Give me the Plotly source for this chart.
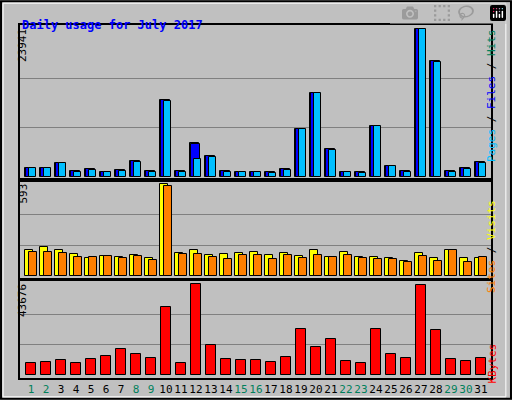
import plotly.graph_objects as go

days = list(range(1, 32))
weekend = [1, 2, 8, 9, 15, 16, 22, 23, 29, 30]
hits = [1460, 1460, 2270, 970, 1300, 810, 1130, 2590, 970, 12470, 970, 5510, 3400, 970, 810, 810,
        810, 1300, 7780, 13610, 4540, 810, 810, 8260, 1780, 970, 23941, 18790, 970, 1460, 2430]
files = [1460, 1460, 2270, 970, 1300, 810, 1130, 2590, 970, 12470, 970, 5350, 3400, 970, 810, 810,
         810, 1300, 7780, 13610, 4540, 810, 810, 8260, 1780, 970, 23941, 18790, 970, 1460, 2430]
pages = [1460, 1460, 2270, 810, 1130, 810, 970, 2430, 810, 12310, 810, 2920, 3240, 810, 810, 810,
         650, 1130, 7780, 13610, 4370, 810, 650, 8260, 1780, 810, 23941, 18630, 810, 1300, 2270]
sites = [165, 188, 165, 143, 118, 131, 124, 137, 118, 593, 150, 165, 137, 143, 150, 156,
         137, 150, 131, 165, 124, 156, 124, 124, 118, 98, 150, 118, 169, 118, 118]
visits = [156, 156, 150, 124, 124, 131, 118, 131, 105, 582, 143, 143, 124, 111, 137, 137,
          111, 137, 118, 137, 124, 137, 118, 111, 111, 92, 131, 98, 169, 92, 124]
kbytes = [5900, 6380, 7330, 5900, 7810, 9250, 12590, 10200, 8290, 32680, 5900, 43676, 14500, 7810, 7330, 7330,
          6380, 8770, 22160, 13550, 17380, 6850, 5900, 22160, 10200, 8290, 43200, 21680, 7810, 6850, 8290]

BG = "#c0c0c0"
line = dict(color="black", width=1)
fig = go.Figure()

def bar(y, color, offset, width, yaxis, xaxis):
    fig.add_trace(go.Bar(x=days, y=y, marker=dict(color=color, line=line), offset=offset,
                         width=width, xaxis=xaxis, yaxis=yaxis, showlegend=False, hoverinfo="y"))

bar(hits, "#00805c", -0.4, 0.6, "y", "x")
bar(files, "#0000ff", -0.3, 0.6, "y", "x")
bar(pages, "#00bfff", -0.13, 0.45, "y", "x")
bar(sites, "#ffff00", -0.4, 0.55, "y2", "x2")
bar(visits, "#ff8000", -0.13, 0.5, "y2", "x2")
bar(kbytes, "#ff0000", -0.33, 0.68, "y3", "x3")

xdom = [20 / 512, 491 / 512]
ax = dict(range=[0.27, 31.67], domain=xdom, showgrid=False, zeroline=False, showline=True,
          linecolor="black", mirror=True, linewidth=2, fixedrange=True)
tick_text = [f"<span style='color:{'#00805c' if d in weekend else 'black'}'>{d}</span>" for d in days]
fig.update_layout(
    xaxis=dict(ax, anchor="y", showticklabels=False, ticks=""),
    xaxis2=dict(ax, anchor="y2", showticklabels=False, ticks=""),
    xaxis3=dict(ax, anchor="y3", tickvals=days, ticktext=tick_text, ticks="", tickangle=0,
                automargin=False, tickfont=dict(family="DejaVu Sans Mono", size=11, color="black")),
)

def yax(top, lo, hi, dom):
    return dict(range=[lo, hi], domain=dom, tickvals=[top / 3, 2 * top / 3], showticklabels=False,
                gridcolor="#808080", gridwidth=1, zeroline=False, showline=True, linecolor="black",
                mirror=True, linewidth=2, fixedrange=True)

fig.update_layout(
    yaxis=yax(23941, -486, 24589, [1 - 180 / 400, 1 - 25 / 400]),
    yaxis2=yax(593, -19, 618.5, [1 - 279 / 400, 1 - 180 / 400]),
    yaxis3=yax(43676, -1580, 45730, [1 - 378 / 400, 1 - 280 / 400]),
    width=512, height=400, margin=dict(l=0, r=0, t=0, b=0),
    paper_bgcolor=BG, plot_bgcolor=BG, bargap=0,
    font=dict(family="DejaVu Sans Mono", size=11, color="black"),
)

mono = "DejaVu Sans Mono"
ann = [
    dict(x=20 / 512, y=1 - 16 / 400, text="<b>Daily usage for July 2017</b>", xanchor="left",
         font=dict(color="#0000ff", size=12, family=mono)),
    dict(x=14 / 512, y=1 - 27 / 400, text="23941", textangle=-90, yanchor="top", font=dict(size=11)),
    dict(x=14 / 512, y=1 - 182 / 400, text="593", textangle=-90, yanchor="top", font=dict(size=11)),
    dict(x=14 / 512, y=1 - 282 / 400, text="43676", textangle=-90, yanchor="top", font=dict(size=11)),
    dict(x=500 / 512, y=1 - 27 / 400, yanchor="top", textangle=-90,
         text="<span style='color:#00bfff'>Pages</span> / <span style='color:#0000ff'>Files</span>"
              " / <span style='color:#00805c'>Hits</span>", font=dict(size=11)),
    dict(x=500 / 512, y=1 - 198 / 400, yanchor="top", textangle=-90,
         text="<span style='color:#ff8000'>Sites</span> / <span style='color:#ffff00'>Visits</span>",
         font=dict(size=11)),
    dict(x=500 / 512, y=1 - 342 / 400, yanchor="top", textangle=-90,
         text="<span style='color:#ff0000'>KBytes</span>", font=dict(size=11)),
]
for a in ann:
    a.update(xref="paper", yref="paper", showarrow=False)
fig.update_layout(annotations=ann)
fig.add_shape(type="rect", xref="paper", yref="paper", x0=0.002, y0=0.003, x1=0.998, y1=0.997,
              line=dict(color="black", width=2))
fig.add_shape(type="rect", xref="paper", yref="paper", x0=0.006, y0=0.008, x1=0.988, y1=0.992,
              line=dict(color="white", width=1))

fig.write_html("out.html", post_script="document.body.style.margin='0';")
